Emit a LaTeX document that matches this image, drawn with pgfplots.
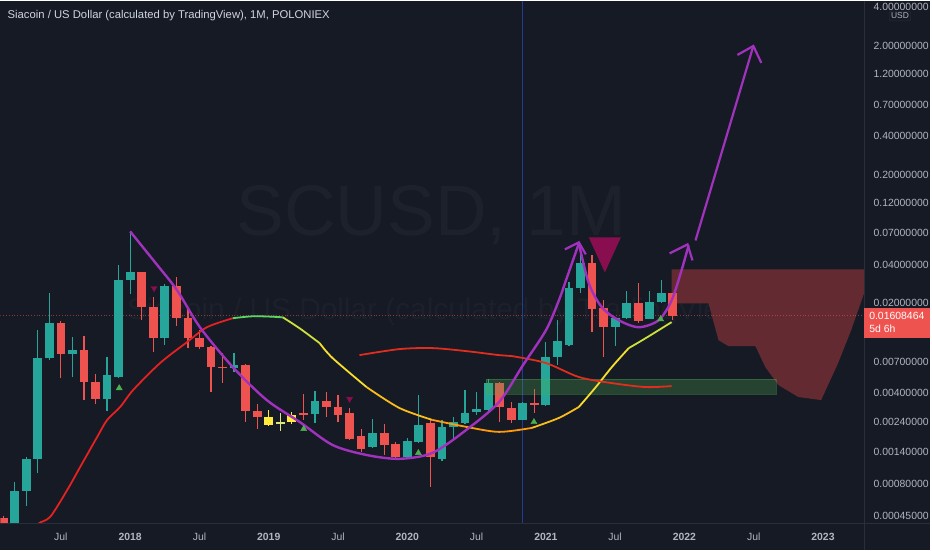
\documentclass[border=0pt]{standalone}
\usepackage{fontspec}
\setmainfont{Liberation Sans}
\usepackage{pgfplots}
\pgfplotsset{compat=1.18}
\definecolor{bg}{RGB}{22,26,37}
\definecolor{sep}{RGB}{42,46,57}
\definecolor{axtxt}{RGB}{178,181,190}
\definecolor{titletxt}{RGB}{209,212,220}
\definecolor{up}{RGB}{38,166,154}
\definecolor{dn}{RGB}{239,83,80}
\definecolor{ylw}{RGB}{255,235,59}
\definecolor{ylg}{RGB}{220,232,120}
\definecolor{maRed}{RGB}{229,33,33}
\definecolor{maGreen}{RGB}{90,215,95}
\definecolor{maYG}{RGB}{205,225,60}
\definecolor{maYellow}{RGB}{245,222,45}
\definecolor{maGold}{RGB}{250,190,25}
\definecolor{maOrange}{RGB}{255,155,10}
\definecolor{maRed2}{RGB}{225,45,30}
\definecolor{purp}{RGB}{160,50,190}
\definecolor{triGreen}{RGB}{76,175,80}
\definecolor{triMag}{RGB}{136,14,79}
\definecolor{cloud}{RGB}{100,42,50}
\definecolor{vline}{RGB}{41,98,255}
\newcommand{\candle}[6]{%
  \addplot[draw=#6, line width=1.2bp] coordinates {(#1,#3) (#1,#4)};
  \addplot[draw=#6, line width=8.8bp, line cap=butt] coordinates {(#1,#2) (#1,#5)};
}
\begin{document}
\begin{tikzpicture}
\fill[bg] (0bp,-26bp) rectangle (932bp,524bp);
\node[text=white, opacity=0.03, font=\fontsize{72}{72}\selectfont] at (432bp,309bp) {SCUSD, 1M};
\node[text=white, opacity=0.028, font=\fontsize{30}{30}\selectfont] at (440bp,212bp) {Siacoin / US Dollar (calculated by TradingView)};
\begin{axis}[
  at={(0bp,0bp)}, anchor=south west,
  scale only axis, width=866bp, height=524bp,
  xmin=-11.23, xmax=63.56,
  ymode=log, ymin=3.898e-4, ymax=4.446,
  axis line style={draw=none}, tick style={draw=none}, major tick length=0pt,
  yminorticks=false, xminorticks=false,
  /pgf/number format/assume math mode=true,
  ytick={4,2,1.2,0.7,0.4,0.2,0.12,0.07,0.04,0.02,0.007,0.004,0.0024,0.0014,0.0008,0.00045},
  yticklabels={4.00000000,2.00000000,1.20000000,0.70000000,0.40000000,0.20000000,0.12000000,0.07000000,0.04000000,0.02000000,0.00700000,0.00400000,0.00240000,0.00140000,0.00080000,0.00045000},
  yticklabel pos=right,
  yticklabel style={anchor=west, xshift=6bp, text=axtxt, font=\fontsize{10.5}{12}\selectfont},
  xtick={-6,0,6,12,18,24,30,36,42,48,54,60},
  xticklabels={Jul,\textbf{2018},Jul,\textbf{2019},Jul,\textbf{2020},Jul,\textbf{2021},Jul,\textbf{2022},Jul,\textbf{2023}},
  xticklabel style={anchor=center, yshift=-13bp, text=axtxt, font=\fontsize{10.5}{12}\selectfont},
  clip=true,
]
% projection cloud
\addplot[fill=cloud, draw=none] coordinates {(46.89,3.67e-2) (63.56,3.67e-2) (63.56,2.395e-2) (62.44,1.238e-2) (61.31,6.88e-3) (59.84,3.55e-3) (57.86,3.75e-3) (56.13,4.65e-3) (55.01,6.40e-3) (54.15,9.31e-3) (51.81,9.31e-3) (50.95,1.036e-2) (50.09,2.00e-2) (46.89,2.00e-2)} --cycle;
% current price line
\addplot[dn, dotted, line width=0.8bp, opacity=0.55] coordinates {(-11.23,0.01608464) (63.56,0.01608464)};
% blue vertical line
\addplot[vline, line width=0.7bp, opacity=0.5] coordinates {(34,3.898e-4) (34,4.446)};
% candles: m, O, H, L, C, colour
\candle{-11}{4.34e-4}{4.49e-4}{3.20e-4}{3.63e-4}{dn}
\candle{-10}{3.50e-4}{8.24e-4}{3.20e-4}{7.02e-4}{up}
\candle{-9}{7.02e-4}{1.287e-3}{5.37e-4}{1.242e-3}{up}
\candle{-8}{1.242e-3}{1.238e-2}{9.67e-4}{7.52e-3}{up}
\candle{-7}{7.52e-3}{2.395e-2}{7.26e-3}{1.403e-2}{up}
\candle{-6}{1.403e-2}{1.454e-2}{5.26e-3}{8.07e-3}{dn}
\candle{-5}{8.07e-3}{1.093e-2}{5.36e-3}{8.67e-3}{up}
\candle{-4}{8.67e-3}{1.113e-2}{3.55e-3}{4.90e-3}{dn}
\candle{-3}{4.90e-3}{5.65e-3}{3.31e-3}{3.62e-3}{dn}
\candle{-2}{3.62e-3}{7.65e-3}{2.92e-3}{5.55e-3}{up}
\candle{-1}{5.36e-3}{3.95e-2}{5.30e-3}{3.02e-2}{up}
\candle{0}{3.02e-2}{7.24e-2}{2.35e-2}{3.48e-2}{up}
\candle{1}{3.48e-2}{3.50e-2}{1.48e-2}{1.866e-2}{dn}
\candle{2}{1.866e-2}{2.23e-2}{8.36e-3}{1.074e-2}{dn}
\candle{3}{1.074e-2}{2.81e-2}{9.48e-3}{2.71e-2}{up}
\candle{4}{2.71e-2}{3.19e-2}{1.33e-2}{1.534e-2}{dn}
\candle{5}{1.534e-2}{1.866e-2}{8.99e-3}{1.074e-2}{dn}
\candle{6}{1.074e-2}{1.238e-2}{8.83e-3}{9.15e-3}{dn}
\candle{7}{9.15e-3}{9.31e-3}{4.10e-3}{6.40e-3}{dn}
\candle{8}{6.40e-3}{8.22e-3}{4.81e-3}{6.29e-3}{dn}
\candle{9}{6.29e-3}{8.22e-3}{5.86e-3}{6.63e-3}{up}
\candle{10}{6.63e-3}{6.75e-3}{2.40e-3}{2.92e-3}{dn}
\candle{11}{2.92e-3}{3.31e-3}{2.12e-3}{2.63e-3}{dn}
\candle{12}{2.63e-3}{2.97e-3}{2.24e-3}{2.28e-3}{ylw}
\candle{13}{2.32e-3}{2.82e-3}{2.05e-3}{2.40e-3}{ylg}
\candle{14}{2.40e-3}{2.87e-3}{2.32e-3}{2.72e-3}{ylw}
\candle{15}{2.82e-3}{3.96e-3}{2.49e-3}{2.72e-3}{dn}
\candle{16}{2.77e-3}{4.17e-3}{2.36e-3}{3.49e-3}{up}
\candle{17}{3.49e-3}{4.10e-3}{2.63e-3}{3.14e-3}{dn}
\candle{18}{3.14e-3}{3.89e-3}{2.40e-3}{2.72e-3}{dn}
\candle{19}{2.82e-3}{3.08e-3}{1.74e-3}{1.77e-3}{dn}
\candle{20}{1.87e-3}{2.12e-3}{1.41e-3}{1.48e-3}{dn}
\candle{21}{1.54e-3}{2.53e-3}{1.51e-3}{1.97e-3}{up}
\candle{22}{1.97e-3}{2.32e-3}{1.33e-3}{1.59e-3}{dn}
\candle{23}{1.62e-3}{1.68e-3}{1.26e-3}{1.287e-3}{dn}
\candle{24}{1.287e-3}{1.81e-3}{1.26e-3}{1.71e-3}{up}
\candle{25}{1.68e-3}{3.89e-3}{1.65e-3}{2.28e-3}{up}
\candle{26}{2.36e-3}{2.49e-3}{7.54e-4}{1.287e-3}{dn}
\candle{27}{1.242e-3}{2.49e-3}{1.20e-3}{2.20e-3}{up}
\candle{28}{2.20e-3}{2.63e-3}{1.74e-3}{2.40e-3}{up}
\candle{29}{2.36e-3}{4.25e-3}{2.32e-3}{2.82e-3}{up}
\candle{30}{2.87e-3}{4.10e-3}{2.72e-3}{3.03e-3}{up}
\candle{31}{2.97e-3}{5.17e-3}{2.82e-3}{4.81e-3}{up}
\candle{32}{4.81e-3}{4.90e-3}{2.40e-3}{3.14e-3}{dn}
\candle{33}{3.08e-3}{3.43e-3}{2.36e-3}{2.49e-3}{dn}
\candle{34}{2.49e-3}{3.40e-3}{2.47e-3}{3.37e-3}{up}
\candle{35}{3.37e-3}{4.33e-3}{2.82e-3}{3.25e-3}{dn}
\candle{36}{3.25e-3}{1.00e-2}{3.20e-3}{7.65e-3}{up}
\candle{37}{7.65e-3}{1.48e-2}{6.63e-3}{1.018e-2}{up}
\candle{38}{9.48e-3}{2.91e-2}{9.40e-3}{2.62e-2}{up}
\candle{39}{2.62e-2}{5.60e-2}{2.395e-2}{4.09e-2}{up}
\candle{40}{4.09e-2}{4.72e-2}{1.195e-2}{1.80e-2}{dn}
\candle{41}{1.83e-2}{2.11e-2}{7.65e-3}{1.306e-2}{dn}
\candle{42}{1.306e-2}{1.56e-2}{9.31e-3}{1.534e-2}{up}
\candle{43}{1.534e-2}{2.48e-2}{1.51e-2}{2.00e-2}{up}
\candle{44}{2.00e-2}{2.86e-2}{1.403e-2}{1.454e-2}{dn}
\candle{45}{1.51e-2}{2.48e-2}{1.50e-2}{2.04e-2}{up}
\candle{46}{2.04e-2}{3.02e-2}{2.00e-2}{2.395e-2}{up}
\candle{47}{2.395e-2}{2.40e-2}{1.48e-2}{1.608464e-2}{dn}
% green zone
\addplot[fill=triGreen, fill opacity=0.28, draw=triGreen, draw opacity=0.35, line width=0.8bp] coordinates {(30.83,5.17e-3) (55.96,5.17e-3) (55.96,3.96e-3) (30.83,3.96e-3)} --cycle;
% moving average 1 (colour by slope)
\addplot[maRed, line width=1.8bp, smooth] coordinates {(-8.64,3.20e-4) (-7.94,3.90e-4) (-6.91,4.42e-4) (-5.44,7.14e-4) (-4.32,1.077e-3) (-2.85,1.84e-3) (-1.99,2.49e-3) (-0.86,3.14e-3) (0.26,4.25e-3) (2.59,6.88e-3) (4.92,1.00e-2) (6.65,1.306e-2) (8.89,1.534e-2)};
\addplot[maGreen, line width=1.8bp, smooth] coordinates {(8.89,1.534e-2) (10.79,1.59e-2) (13.21,1.56e-2)};
\addplot[maYG, line width=1.8bp, smooth] coordinates {(13.21,1.56e-2) (14.68,1.28e-2) (16.41,9.82e-3)};
\addplot[maYellow, line width=1.8bp, smooth] coordinates {(16.41,9.82e-3) (17.53,7.52e-3) (20.47,4.48e-3)};
\addplot[maGold, line width=1.8bp, smooth] coordinates {(20.47,4.48e-3) (23.32,3.08e-3) (26.17,2.49e-3)};
\addplot[maOrange, line width=1.8bp, smooth] coordinates {(26.17,2.49e-3) (29.10,2.20e-3) (31.95,2.01e-3) (34.80,2.16e-3)};
\addplot[maGold, line width=1.8bp, smooth] coordinates {(34.80,2.16e-3) (37.13,2.58e-3) (38.86,3.14e-3)};
\addplot[maYellow, line width=1.8bp, smooth] coordinates {(38.86,3.14e-3) (40.33,4.48e-3) (41.71,6.40e-3) (43.18,8.99e-3)};
\addplot[maYG, line width=1.8bp, smooth] coordinates {(43.18,8.99e-3) (44.65,1.074e-2) (46.89,1.43e-2)};
% moving average 2
\addplot[maRed2, line width=1.8bp, smooth] coordinates {(19.86,7.93e-3) (23.32,8.83e-3) (26.17,8.99e-3) (29.10,8.52e-3) (31.95,7.93e-3) (33.07,7.79e-3) (36.01,6.88e-3) (38.86,5.36e-3) (41.71,4.81e-3) (44.65,4.48e-3) (46.89,4.56e-3)};
% signal triangles
\addplot[only marks, mark=triangle*, mark size=3.5bp, color=triGreen] coordinates {(-0.95,4.40e-3) (15.03,2.12e-3) (24.96,1.38e-3) (34.97,2.40e-3) (45.94,1.51e-2)};
\addplot[only marks, mark=triangle*, mark size=3.5bp, color=triMag, mark options={rotate=180}] coordinates {(2.07,2.62e-2) (19.0,3.62e-3)};
\addplot[fill=triMag, draw=none] coordinates {(39.72,6.50e-2) (42.49,6.50e-2) (41.11,3.48e-2)} --cycle;
% cup and handle drawing
\addplot[purp, line width=2.4bp, smooth] coordinates {(0,7.24e-2) (2.16,4.16e-2) (4.06,2.53e-2) (6.04,1.306e-2) (8.89,6.40e-3) (11.83,3.55e-3) (14.68,2.40e-3) (17.53,1.59e-3) (20.47,1.33e-3) (23.32,1.242e-3) (26.17,1.38e-3) (29.10,2.08e-3) (31.95,3.43e-3) (34.02,6.63e-3) (36.01,1.238e-2) (37.13,2.11e-2) (37.74,3.02e-2) (38.86,5.84e-2)};
\addplot[purp, line width=2.4bp, smooth] coordinates {(38.86,5.84e-2) (39.72,2.86e-2) (40.85,1.866e-2) (42.31,1.48e-2) (44.04,1.306e-2) (45.77,1.48e-2) (46.89,2.11e-2) (47.75,3.61e-2) (48.36,5.64e-2)};
\addplot[purp, line width=2.2bp] coordinates {(37.65,5.25e-2) (38.86,5.95e-2) (39.46,4.80e-2)};
\addplot[purp, line width=2.2bp] coordinates {(46.72,4.89e-2) (48.27,5.74e-2) (48.70,4.31e-2)};
\addplot[purp, line width=2.2bp] coordinates {(48.96,6.16e-2) (53.97,1.993)};
\addplot[purp, line width=2.2bp] coordinates {(52.59,1.698) (53.97,1.993) (54.66,1.472)};
\end{axis}
% separators
\draw[sep, line width=1bp] (0bp,0bp) -- (932bp,0bp);
\draw[sep, line width=1bp] (866bp,-26bp) -- (866bp,524bp);
% title
\node[anchor=west, text=titletxt, font=\fontsize{11.35}{13}\selectfont, inner sep=0pt] at (7bp,509bp) {Siacoin / US Dollar (calculated by TradingView), 1M, POLONIEX};
% USD tag
\node[fill=bg, draw=sep, rounded corners=2bp, text=axtxt, font=\fontsize{8.5}{9}\selectfont, inner sep=1.8bp] at (902bp,509bp) {USD};
% price label
\fill[dn] (866bp,186bp) rectangle (932bp,216bp);
\node[anchor=west, text=white, font=\fontsize{10.5}{12}\selectfont, inner sep=0pt] at (871bp,208bp) {0.01608464};
\node[anchor=west, text=white, font=\fontsize{10.5}{12}\selectfont, inner sep=0pt] at (871bp,195bp) {5d 6h};
\end{tikzpicture}
\end{document}
